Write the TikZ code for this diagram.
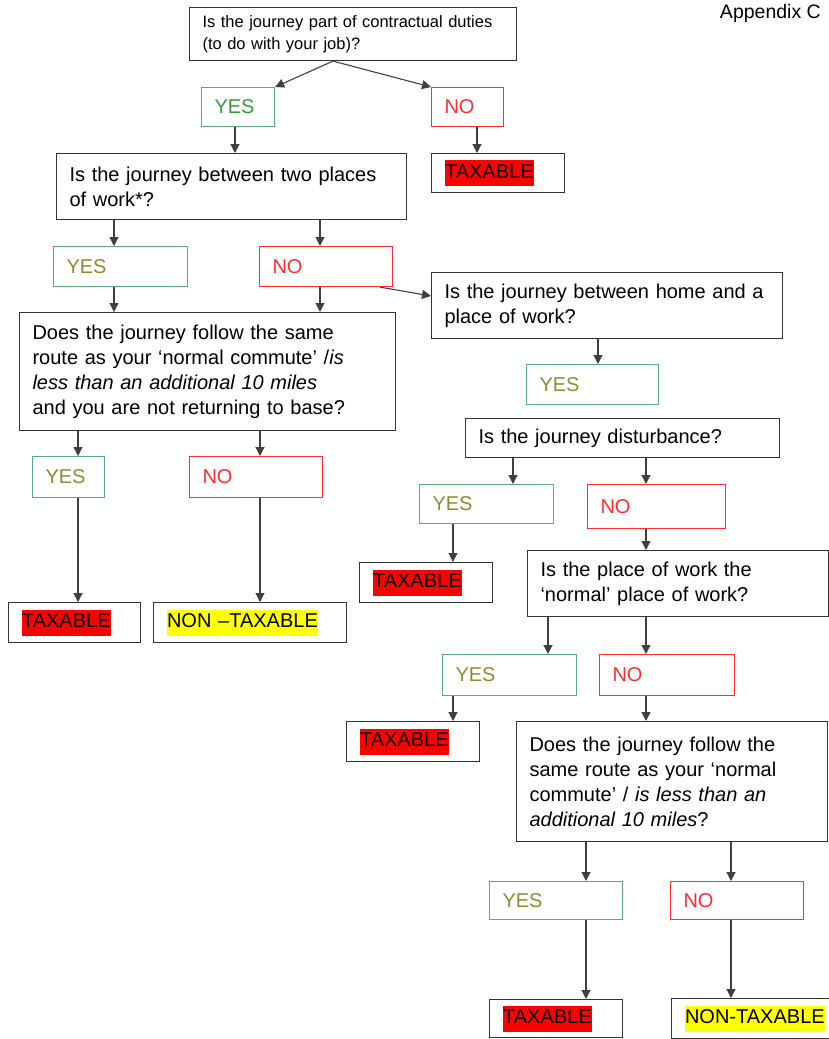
\documentclass[tikz,border=0pt]{standalone}
\usepackage{fontspec}
\setmainfont{Liberation Sans}
\usetikzlibrary{arrows.meta}
\definecolor{yesgreen}{RGB}{90,170,125}
\definecolor{yestext}{RGB}{55,155,55}
\definecolor{yesolive}{RGB}{140,140,50}
\definecolor{nored}{RGB}{255,45,45}
\definecolor{taxred}{RGB}{255,0,0}
\definecolor{ntaxyellow}{RGB}{255,255,0}
\newcommand{\markbox}[2]{{\setlength{\fboxsep}{0.5pt}\colorbox{#1}{\strut #2}}}

\begin{document}
\begin{tikzpicture}[x=1pt,y=-1pt,
  qbox/.style={draw=black!80, line width=1.1pt, anchor=north west, inner xsep=13pt,
    inner ysep=0pt, align=left, font=\fontsize{20}{25}\selectfont},
  yesbox/.style={qbox, draw=yesgreen, text=yesolive},
  nobox/.style={qbox, draw=nored, text=nored},
  arr/.style={-{Triangle[length=9pt,width=9pt]}, line width=1.1pt, black!75}]
  \clip (0,0) rectangle (829,1039);
  \node[anchor=north east, inner sep=0pt, font=\fontsize{19.5}{22}\selectfont] (appx) at (821,4) {Appendix C};

  % first question
  \node[qbox, font=\fontsize{16.5}{22}\selectfont, text width=301pt, minimum height=53pt] (q1) at (189,7)
    {Is the journey part of contractual duties\\(to do with your job)?};
  \node[yesbox, text=yestext, text width=47pt, minimum height=39pt] (yes1) at (201,87) {YES};
  \node[nobox, text width=46pt, minimum height=39pt] (no1) at (431,87) {NO};
  \node[qbox, text width=107pt, minimum height=39pt] (tax1) at (431,153) {\markbox{taxred}{TAXABLE}};

  % places of work
  \node[qbox, text width=324pt, minimum height=66pt] (q2) at (56,153)
    {Is the journey between two places\\of work*?};
  \node[yesbox, text width=108pt, minimum height=40pt] (yes2) at (53,246) {YES};
  \node[nobox, text width=107pt, minimum height=40pt] (no2) at (259,246) {NO};
  \node[qbox, text width=350pt, minimum height=118pt] (q3) at (19,312)
    {Does the journey follow the same\\route as your ‘normal commute’ /\textit{is}\\
     \textit{less than an additional 10 miles}\\and you are not returning to base?};
  \node[yesbox, text width=46pt, minimum height=41pt] (yes3) at (32,456) {YES};
  \node[nobox, text width=107pt, minimum height=41pt] (no3) at (189,456) {NO};
  \node[qbox, text width=106pt, minimum height=40pt] (tax2) at (8,602) {\markbox{taxred}{TAXABLE}};
  \node[qbox, text width=167pt, minimum height=40pt] (ntax1) at (153,602) {\markbox{ntaxyellow}{NON –TAXABLE}};

  % home and work
  \node[qbox, text width=325pt, minimum height=66pt] (q4) at (431,272)
    {Is the journey between home and a\\place of work?};
  \node[yesbox, text width=106pt, minimum height=40pt] (yes4) at (526,364) {YES};
  \node[qbox, text width=288pt, minimum height=39pt] (q5) at (465,418) {Is the journey disturbance?};
  \node[yesbox, text width=108pt, minimum height=39pt] (yes5) at (419,484) {YES};
  \node[nobox, text width=112pt, minimum height=44pt] (no5) at (587,484) {NO};
  \node[qbox, text width=107pt, minimum height=40pt] (tax3) at (359,562) {\markbox{taxred}{TAXABLE}};
  \node[qbox, text width=275pt, minimum height=66pt] (q6) at (527,550)
    {Is the place of work the\\‘normal’ place of work?};
  \node[yesbox, text width=108pt, minimum height=41pt] (yes6) at (442,654) {YES};
  \node[nobox, text width=109pt, minimum height=41pt] (no6) at (599,654) {NO};
  \node[qbox, text width=107pt, minimum height=40pt] (tax4) at (346,721) {\markbox{taxred}{TAXABLE}};
  \node[qbox, text width=285pt, minimum height=120pt] (q7) at (516,721)
    {Does the journey follow the\\same route as your ‘normal\\commute’ / \textit{is less than an}\\
     \textit{additional 10 miles}?};
  \node[yesbox, text width=107pt, minimum height=38pt] (yes7) at (489,881) {YES};
  \node[nobox, text width=107pt, minimum height=38pt] (no7) at (670,881) {NO};
  \node[qbox, text width=107pt, minimum height=38pt] (tax5) at (489,999) {\markbox{taxred}{TAXABLE}};
  \node[qbox, text width=144pt, minimum height=40pt] (ntax2) at (671,998) {\markbox{ntaxyellow}{NON-TAXABLE}};

  % connectors
  \draw[arr] (q1.south -| 333,0) -- (yes1.north east);
  \draw[arr] (q1.south -| 333,0) -- (no1.north west);
  \draw[arr] (yes1.south -| 235,0) -- (q2.north -| 235,0);
  \draw[arr] (no1.south -| 477,0) -- (tax1.north -| 477,0);
  \draw[arr] (q2.south -| 114,0) -- (yes2.north -| 114,0);
  \draw[arr] (q2.south -| 320,0) -- (no2.north -| 320,0);
  \draw[arr] (yes2.south -| 114,0) -- (q3.north -| 114,0);
  \draw[arr] (no2.south -| 320,0) -- (q3.north -| 320,0);
  \draw[arr] (no2.south -| 380,0) -- (q4.west |- 0,296);
  \draw[arr] (q3.south -| 78,0) -- (yes3.north -| 78,0);
  \draw[arr] (q3.south -| 260,0) -- (no3.north -| 260,0);
  \draw[arr] (yes3.south -| 78,0) -- (tax2.north -| 78,0);
  \draw[arr] (no3.south -| 260,0) -- (ntax1.north -| 260,0);
  \draw[arr] (q4.south -| 598,0) -- (yes4.north -| 598,0);
  \draw[arr] (q5.south -| 513,0) -- (yes5.north -| 513,0);
  \draw[arr] (q5.south -| 646,0) -- (no5.north -| 646,0);
  \draw[arr] (yes5.south -| 453,0) -- (tax3.north -| 453,0);
  \draw[arr] (no5.south -| 646,0) -- (q6.north -| 646,0);
  \draw[arr] (q6.south -| 548,0) -- (yes6.north -| 548,0);
  \draw[arr] (q6.south -| 646,0) -- (no6.north -| 646,0);
  \draw[arr] (yes6.south -| 453,0) -- (tax4.north -| 453,0);
  \draw[arr] (no6.south -| 646,0) -- (q7.north -| 646,0);
  \draw[arr] (q7.south -| 586,0) -- (yes7.north -| 586,0);
  \draw[arr] (q7.south -| 731,0) -- (no7.north -| 731,0);
  \draw[arr] (yes7.south -| 586,0) -- (tax5.north -| 586,0);
  \draw[arr] (no7.south -| 731,0) -- (ntax2.north -| 731,0);
\end{tikzpicture}
\end{document}
